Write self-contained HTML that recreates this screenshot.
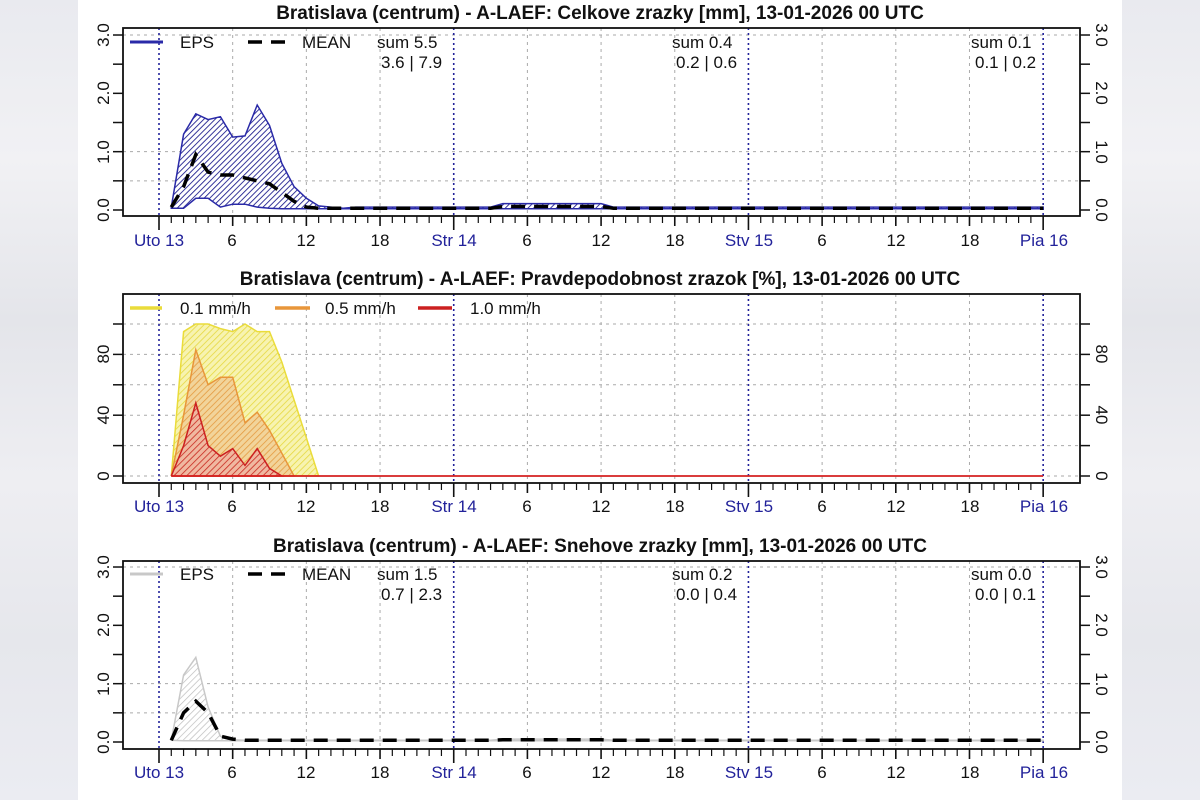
<!DOCTYPE html>
<html><head><meta charset="utf-8"><style>
html,body{margin:0;padding:0;width:1200px;height:800px;overflow:hidden;background:#fff}
.bg{position:absolute;top:0;width:78px;height:800px;background:linear-gradient(#e9eaef,#f1f1f4 20%,#e4e5ea 40%,#eeeef2 60%,#e6e7ec 80%,#ebecf2)}
svg{position:absolute;left:0;top:0}
text{font-family:"Liberation Sans",sans-serif;font-size:17px;fill:#111}
.t{font-weight:bold;font-size:19px;text-anchor:middle}
.day{fill:#22229a}
</style></head><body>
<div class="bg" style="left:0"></div>
<div class="bg" style="left:1122px"></div>
<svg id="s" width="1200" height="800" xmlns="http://www.w3.org/2000/svg">
<defs>
<pattern id="hb" width="4" height="4" patternUnits="userSpaceOnUse" patternTransform="rotate(45)"><rect width="4" height="4" fill="#fff"/><line x1="0" y1="0" x2="0" y2="4" stroke="#20208f" stroke-width="1.8"/></pattern>
<pattern id="hy" width="4.5" height="4.5" patternUnits="userSpaceOnUse" patternTransform="rotate(45)"><rect width="4.5" height="4.5" fill="#f7f3b0"/><line x1="0" y1="0" x2="0" y2="4.5" stroke="#e6d840" stroke-width="1.6"/></pattern>
<pattern id="ho" width="4.5" height="4.5" patternUnits="userSpaceOnUse" patternTransform="rotate(45)"><rect width="4.5" height="4.5" fill="#f2d49a"/><line x1="0" y1="0" x2="0" y2="4.5" stroke="#e49a40" stroke-width="1.6"/></pattern>
<pattern id="hr" width="4.5" height="4.5" patternUnits="userSpaceOnUse" patternTransform="rotate(45)"><rect width="4.5" height="4.5" fill="#f0b8a0"/><line x1="0" y1="0" x2="0" y2="4.5" stroke="#c8281e" stroke-width="1.6"/></pattern>
<pattern id="hg" width="4.5" height="4.5" patternUnits="userSpaceOnUse" patternTransform="rotate(45)"><rect width="4.5" height="4.5" fill="#fff"/><line x1="0" y1="0" x2="0" y2="4.5" stroke="#bdbdbd" stroke-width="1.4"/></pattern>
</defs>
<g id="g"></g>
<text class="t" x="600" y="19">Bratislava (centrum) - A-LAEF: Celkove zrazky [mm], 13-01-2026 00 UTC</text>
<text class="t" x="600" y="285">Bratislava (centrum) - A-LAEF: Pravdepodobnost zrazok [%], 13-01-2026 00 UTC</text>
<text class="t" x="600" y="552">Bratislava (centrum) - A-LAEF: Snehove zrazky [mm], 13-01-2026 00 UTC</text>
<text x="180" y="48">EPS</text><text x="302" y="48">MEAN</text>
<text x="377" y="48">sum 5.5</text><text x="381" y="68">3.6 | 7.9</text>
<text x="672" y="48">sum 0.4</text><text x="676" y="68">0.2 | 0.6</text>
<text x="971" y="48">sum 0.1</text><text x="975" y="68">0.1 | 0.2</text>
<text x="180" y="314">0.1 mm/h</text><text x="325" y="314">0.5 mm/h</text><text x="470" y="314">1.0 mm/h</text>
<text x="180" y="580">EPS</text><text x="302" y="580">MEAN</text>
<text x="377" y="580">sum 1.5</text><text x="381" y="600">0.7 | 2.3</text>
<text x="672" y="580">sum 0.2</text><text x="676" y="600">0.0 | 0.4</text>
<text x="971" y="580">sum 0.0</text><text x="975" y="600">0.0 | 0.1</text>
<g>
<text class="day" x="159" y="246" text-anchor="middle">Uto 13</text><text x="232" y="246" text-anchor="middle">6</text><text x="306" y="246" text-anchor="middle">12</text><text x="380" y="246" text-anchor="middle">18</text>
<text class="day" x="454" y="246" text-anchor="middle">Str 14</text><text x="527" y="246" text-anchor="middle">6</text><text x="601" y="246" text-anchor="middle">12</text><text x="675" y="246" text-anchor="middle">18</text>
<text class="day" x="749" y="246" text-anchor="middle">Stv 15</text><text x="822" y="246" text-anchor="middle">6</text><text x="896" y="246" text-anchor="middle">12</text><text x="970" y="246" text-anchor="middle">18</text>
<text class="day" x="1044" y="246" text-anchor="middle">Pia 16</text>
</g>
<g transform="translate(0,266)">
<text class="day" x="159" y="246" text-anchor="middle">Uto 13</text><text x="232" y="246" text-anchor="middle">6</text><text x="306" y="246" text-anchor="middle">12</text><text x="380" y="246" text-anchor="middle">18</text>
<text class="day" x="454" y="246" text-anchor="middle">Str 14</text><text x="527" y="246" text-anchor="middle">6</text><text x="601" y="246" text-anchor="middle">12</text><text x="675" y="246" text-anchor="middle">18</text>
<text class="day" x="749" y="246" text-anchor="middle">Stv 15</text><text x="822" y="246" text-anchor="middle">6</text><text x="896" y="246" text-anchor="middle">12</text><text x="970" y="246" text-anchor="middle">18</text>
<text class="day" x="1044" y="246" text-anchor="middle">Pia 16</text>
</g>
<g transform="translate(0,532)">
<text class="day" x="159" y="246" text-anchor="middle">Uto 13</text><text x="232" y="246" text-anchor="middle">6</text><text x="306" y="246" text-anchor="middle">12</text><text x="380" y="246" text-anchor="middle">18</text>
<text class="day" x="454" y="246" text-anchor="middle">Str 14</text><text x="527" y="246" text-anchor="middle">6</text><text x="601" y="246" text-anchor="middle">12</text><text x="675" y="246" text-anchor="middle">18</text>
<text class="day" x="749" y="246" text-anchor="middle">Stv 15</text><text x="822" y="246" text-anchor="middle">6</text><text x="896" y="246" text-anchor="middle">12</text><text x="970" y="246" text-anchor="middle">18</text>
<text class="day" x="1044" y="246" text-anchor="middle">Pia 16</text>
</g>
<g text-anchor="middle">
<text transform="translate(109,210) rotate(-90)">0.0</text><text transform="translate(109,152) rotate(-90)">1.0</text><text transform="translate(109,93) rotate(-90)">2.0</text><text transform="translate(109,35) rotate(-90)">3.0</text>
<text transform="translate(1096,210) rotate(90)">0.0</text><text transform="translate(1096,152) rotate(90)">1.0</text><text transform="translate(1096,93) rotate(90)">2.0</text><text transform="translate(1096,35) rotate(90)">3.0</text>
<text transform="translate(109,476) rotate(-90)">0</text><text transform="translate(109,415) rotate(-90)">40</text><text transform="translate(109,354) rotate(-90)">80</text>
<text transform="translate(1096,476) rotate(90)">0</text><text transform="translate(1096,415) rotate(90)">40</text><text transform="translate(1096,354) rotate(90)">80</text>
<text transform="translate(109,742) rotate(-90)">0.0</text><text transform="translate(109,684) rotate(-90)">1.0</text><text transform="translate(109,625) rotate(-90)">2.0</text><text transform="translate(109,567) rotate(-90)">3.0</text>
<text transform="translate(1096,742) rotate(90)">0.0</text><text transform="translate(1096,684) rotate(90)">1.0</text><text transform="translate(1096,625) rotate(90)">2.0</text><text transform="translate(1096,567) rotate(90)">3.0</text>
</g>
</svg>
<script>
var g=document.getElementById('g'),NS='http://www.w3.org/2000/svg';
function el(t,a){var e=document.createElementNS(NS,t);for(var k in a)e.setAttribute(k,a[k]);g.appendChild(e);return e;}
function X(h){return 159+h*12.28;}
var L=123,R=1080;
function pts(arr,Y){return arr.map(function(v,i){return X(i+1).toFixed(1)+','+Y(v).toFixed(1);});}
function frame(top,bot,y0,yticks,grid,Y){
 grid.forEach(function(v){el('line',{x1:L,x2:R,y1:Y(v),y2:Y(v),stroke:'#aaa','stroke-width':1,'stroke-dasharray':'3,4'});});
 for(var h=6;h<72;h+=6){if(h%24)el('line',{x1:X(h),x2:X(h),y1:top,y2:bot,stroke:'#aaa','stroke-width':1,'stroke-dasharray':'3,4'});}
 for(var d=0;d<=72;d+=24)el('line',{x1:X(d),x2:X(d),y1:top,y2:bot,stroke:'#22229a','stroke-width':1.6,'stroke-dasharray':'2,3'});
 for(var h=0;h<=72;h++){var big=h%6==0;el('line',{x1:X(h),x2:X(h),y1:bot,y2:bot+(big?(h%24==0?14:10):7),stroke:'#111','stroke-width':big?1.6:1.2});}
 yticks.forEach(function(v){el('line',{x1:L-10,x2:L,y1:Y(v),y2:Y(v),stroke:'#111','stroke-width':1.5});el('line',{x1:R,x2:R+10,y1:Y(v),y2:Y(v),stroke:'#111','stroke-width':1.5});});
}
function box(top,bot){el('rect',{x:L,y:top,width:R-L,height:bot-top,fill:'none',stroke:'#111','stroke-width':1.8});}
function tail(a,n,v){while(a.length<n)a.push(typeof v=='function'?v(a.length):v);return a;}
var Y1=function(v){return 210-v*58.33;};
frame(28,216,210,[0,.5,1,1.5,2,2.5,3],[.5,1,3],Y1);
var up=tail([0.05,1.3,1.65,1.55,1.6,1.25,1.27,1.8,1.45,0.8,0.4,0.2,0.07,0.05,0.03],72,function(i){return (i>26&&i<36)?0.11:0.05;});
var lo=tail([0.03,0.03,0.2,0.2,0.05,0.1,0.1,0.05,0.03],72,0.02);
var mn=tail([0.05,0.4,0.95,0.65,0.6,0.6,0.55,0.5,0.45,0.3,0.15,0.05],72,function(i){return (i>26&&i<36)?0.06:0.03;});
el('polygon',{points:pts(up,Y1).concat(pts(lo,Y1).reverse()).join(' '),fill:'url(#hb)',stroke:'#2a2aa8','stroke-width':1.5});
el('polyline',{points:pts(mn,Y1).join(' '),fill:'none',stroke:'#000','stroke-width':3.5,'stroke-dasharray':'14,9'});
el('line',{x1:130,x2:163,y1:42,y2:42,stroke:'#2a2aa8','stroke-width':3});
el('line',{x1:248,x2:288,y1:42,y2:42,stroke:'#000','stroke-width':3.5,'stroke-dasharray':'14,9'});
box(28,216);
var Y2=function(p){return 476-p*1.52;};
frame(294,483,476,[0,20,40,60,80,100],[0,20,40,60,80,100],Y2);
var ye=[0,95,100,100,97,95,100,95,95,75,50,25,0],or=[0,40,83,60,65,65,35,42,30,15,0],re=[0,20,48,20,13,18,7,18,5,0];
function poly(a,f,s){el('polygon',{points:pts(a,Y2).concat([X(a.length).toFixed(1)+','+Y2(0),X(1)+','+Y2(0)]).join(' '),fill:f,stroke:s,'stroke-width':1.5});}
poly(ye,'url(#hy)','#eadc3a');poly(or,'url(#ho)','#e8963a');poly(re,'url(#hr)','#cc2020');
el('line',{x1:X(1),x2:X(72),y1:476,y2:476,stroke:'#d42020','stroke-width':1.8});
el('line',{x1:130,x2:162,y1:308,y2:308,stroke:'#eadc3a','stroke-width':3.5});
el('line',{x1:275,x2:310,y1:308,y2:308,stroke:'#e8963a','stroke-width':3.5});
el('line',{x1:418,x2:452,y1:308,y2:308,stroke:'#cc2020','stroke-width':3.5});
box(294,483);
var Y3=function(v){return 742-v*58.33;};
frame(561,749,742,[0,.5,1,1.5,2,2.5,3],[.5,1,3],Y3);
var u3=tail([0.03,1.15,1.45,0.6,0.1,0.04],72,function(i){return (i>26&&i<36)?0.05:0.03;});
var l3=tail([0.03],72,0.02);
var m3=tail([0.03,0.5,0.7,0.5,0.1,0.05],72,function(i){return (i>26&&i<36)?0.04:0.03;});
el('polygon',{points:pts(u3,Y3).concat(pts(l3,Y3).reverse()).join(' '),fill:'url(#hg)',stroke:'#c8c8c8','stroke-width':1.5});
el('polyline',{points:pts(m3,Y3).join(' '),fill:'none',stroke:'#000','stroke-width':3.5,'stroke-dasharray':'14,9'});
el('line',{x1:130,x2:163,y1:574,y2:574,stroke:'#c8c8c8','stroke-width':3});
el('line',{x1:248,x2:288,y1:574,y2:574,stroke:'#000','stroke-width':3.5,'stroke-dasharray':'14,9'});
box(561,749);
</script>
</body></html>
